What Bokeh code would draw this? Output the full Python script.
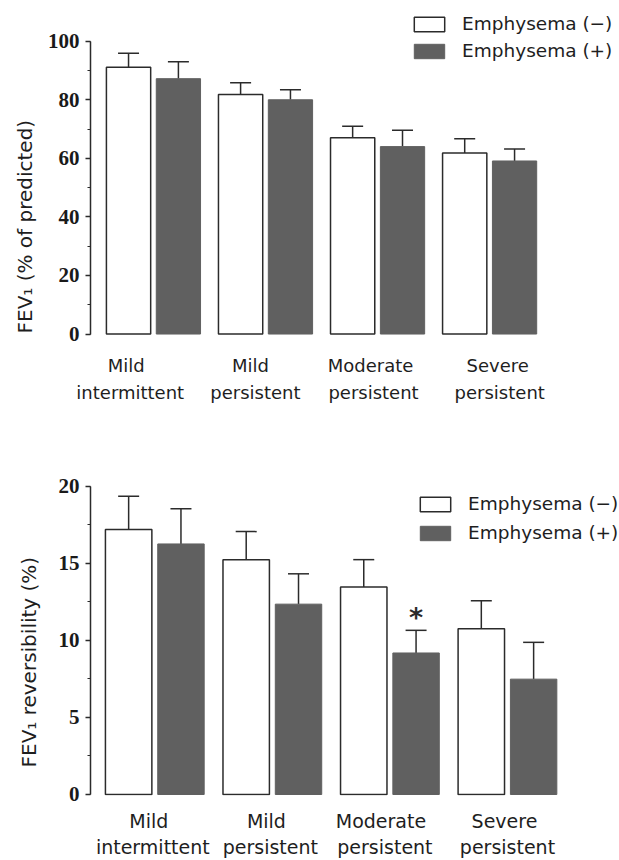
from bokeh.embed import file_html
from bokeh.layouts import column
from bokeh.models import (ColumnDataSource, FixedTicker, Legend, LegendItem,
                          LinearAxis, SingleIntervalTicker, TeeHead, Title,
                          Whisker)
from bokeh.core.properties import value
from bokeh.plotting import figure
from bokeh.resources import INLINE

# --- data -------------------------------------------------------------------
severity_line1 = ["Mild", "Mild", "Moderate", "Severe"]
severity_line2 = ["intermittent", "persistent", "persistent", "persistent"]

series_names = ["Emphysema (\u2212)", "Emphysema (+)"]

# FEV1, % of predicted (mean and SD)
fev1_neg = [91.1, 81.8, 67.0, 61.8]
fev1_neg_sd = [4.8, 4.0, 4.0, 4.9]
fev1_pos = [87.2, 80.0, 64.0, 59.1]
fev1_pos_sd = [5.8, 3.4, 5.6, 4.1]

# FEV1 reversibility, % (mean and SD)
rev_neg = [17.2, 15.25, 13.48, 10.77]
rev_neg_sd = [2.17, 1.82, 1.77, 1.81]
rev_pos = [16.27, 12.36, 9.19, 7.49]
rev_pos_sd = [2.28, 1.97, 1.47, 2.39]
rev_pos_marks = ["", "", "*", ""]

fev1_ticks = [0, 20, 40, 60, 80, 100]
rev_ticks = [0, 5, 10, 15, 20]

# --- styling ----------------------------------------------------------------
WHITE = "#ffffff"
GRAY = "#606060"
INK = "#2b2b2b"
TEXT = "#1e1e1e"
BAR_W = 0.395
PAIR_OFF = 0.2225


def category_axis(p, labels, shifts, pitch, standoff, size):
    """One row of category text under the bars (a tick-less x axis)."""
    ticks = [g + dx / pitch for g, dx in enumerate(shifts)]
    ax = LinearAxis(ticker=FixedTicker(ticks=ticks, minor_ticks=[]),
                    major_label_overrides={t: s for t, s in zip(ticks, labels)})
    ax.axis_line_color = None
    ax.major_tick_line_color = None
    ax.minor_tick_line_color = None
    ax.major_tick_out = 0
    ax.major_tick_in = 0
    ax.minor_tick_out = 0
    ax.minor_tick_in = 0
    ax.major_label_standoff = standoff
    ax.major_label_text_font = "DejaVu Sans"
    ax.major_label_text_font_size = size
    ax.major_label_text_color = TEXT
    p.add_layout(ax, "below")


def bar_panel(ylabel, neg, neg_sd, pos, pos_sd, ticks, *, left, bottom_gap,
              x_range, y_range, pitch, title_offset, title_standoff,
              legend_loc, legend_spacing, legend_size, row_shifts,
              row_standoffs, label_size, marks=None):
    p = figure(width=619, height=430, x_range=x_range, y_range=y_range,
               x_axis_type=None, toolbar_location=None,
               output_backend="svg", min_border_left=left,
               min_border_right=0, min_border_top=0,
               min_border_bottom=bottom_gap)
    p.outline_line_color = None
    p.ygrid.visible = False
    p.background_fill_color = WHITE
    p.border_fill_color = WHITE

    groups = list(range(len(severity_line1)))
    x_neg = [g - PAIR_OFF for g in groups]
    x_pos = [g + PAIR_OFF for g in groups]

    r_neg = p.vbar(x=x_neg, top=neg, bottom=0, width=BAR_W,
                   fill_color=WHITE, line_color=INK, line_width=1.5)
    r_pos = p.vbar(x=x_pos, top=pos, bottom=0, width=BAR_W,
                   fill_color=GRAY, line_color=GRAY, line_width=1.0)

    # upper error bars (mean + SD)
    for xs, m, sd in ((x_neg, neg, neg_sd), (x_pos, pos, pos_sd)):
        src = ColumnDataSource(dict(x=xs, lower=m,
                                    upper=[a + b for a, b in zip(m, sd)]))
        p.add_layout(Whisker(source=src, base="x", lower="lower",
                             upper="upper", dimension="height",
                             lower_head=None,
                             upper_head=TeeHead(size=21, line_color=INK,
                                                line_width=1.5),
                             line_color=INK, line_width=1.5))

    if marks is not None:
        tops = [a + b for a, b in zip(pos, pos_sd)]
        keep = [i for i, mk in enumerate(marks) if mk]
        p.text(x=[x_pos[i] for i in keep], y=[tops[i] for i in keep],
               text=[marks[i] for i in keep], text_align="center",
               text_baseline="bottom", y_offset=3,
               text_font=value("DejaVu Sans"), text_font_size="27px",
               text_font_style="bold", text_color=INK)

    ax = p.yaxis[0]
    ax.bounds = (ticks[0], ticks[-1])
    ax.ticker = SingleIntervalTicker(interval=ticks[1] - ticks[0],
                                     num_minor_ticks=2)
    ax.axis_line_color = INK
    ax.axis_line_width = 1.5
    ax.major_tick_line_color = INK
    ax.major_tick_line_width = 1.5
    ax.major_tick_out = 5
    ax.major_tick_in = 0
    ax.minor_tick_line_color = INK
    ax.minor_tick_out = 3
    ax.minor_tick_in = 0
    ax.major_label_standoff = 6
    ax.major_label_text_font = "Liberation Serif"
    ax.major_label_text_font_style = "bold"
    ax.major_label_text_font_size = "21px"
    ax.major_label_text_color = "#1a1a1a"

    # vertical title on the left, starting near the zero line
    p.add_layout(Title(text=ylabel, align="left", offset=title_offset,
                       standoff=title_standoff, text_font="DejaVu Sans",
                       text_font_style="normal", text_font_size="20px",
                       text_color=TEXT), "left")

    # two rows of category text under the bar pairs
    category_axis(p, severity_line1, row_shifts[0], pitch, row_standoffs[0],
                  label_size)
    category_axis(p, severity_line2, row_shifts[1], pitch, row_standoffs[1],
                  label_size)

    legend = Legend(items=[LegendItem(label=series_names[0], renderers=[r_neg]),
                           LegendItem(label=series_names[1], renderers=[r_pos])],
                    location=legend_loc, orientation="vertical",
                    glyph_width=38, glyph_height=18, label_height=18,
                    label_standoff=14, spacing=legend_spacing, padding=0,
                    margin=0, border_line_color=None,
                    background_fill_alpha=0,
                    label_text_font="DejaVu Sans",
                    label_text_font_size=legend_size,
                    label_text_color=TEXT)
    p.add_layout(legend)
    return p


top = bar_panel("FEV\u2081 (% of predicted)", fev1_neg, fev1_neg_sd,
                fev1_pos, fev1_pos_sd, fev1_ticks, left=90, bottom_gap=95,
                x_range=(-0.562, 4.159), y_range=(-0.5, 113.9), pitch=111,
                title_offset=2, title_standoff=15,
                legend_loc=(320, 274), legend_spacing=6, legend_size="18.5px",
                row_shifts=([-27, -15, -7, 8], [-23, -10, -4, 10]),
                row_standoffs=(19, 3), label_size="18px")

bottom = bar_panel("FEV\u2081 reversibility (%)", rev_neg, rev_neg_sd,
                   rev_pos, rev_pos_sd, rev_ticks, left=88, bottom_gap=65,
                   x_range=(-0.547, 3.953), y_range=(-0.065, 23.636),
                   pitch=118, title_offset=28, title_standoff=29,
                   legend_loc=(326, 252), legend_spacing=8,
                   legend_size="18.5px",
                   row_shifts=([-6, -6, -9, -3], [-2, -2, -5, 0]),
                   row_standoffs=(14, 1), label_size="19px",
                   marks=rev_pos_marks)

layout = column(top, bottom, spacing=0)

with open("out.html", "w") as fh:
    fh.write(file_html(layout, INLINE))
